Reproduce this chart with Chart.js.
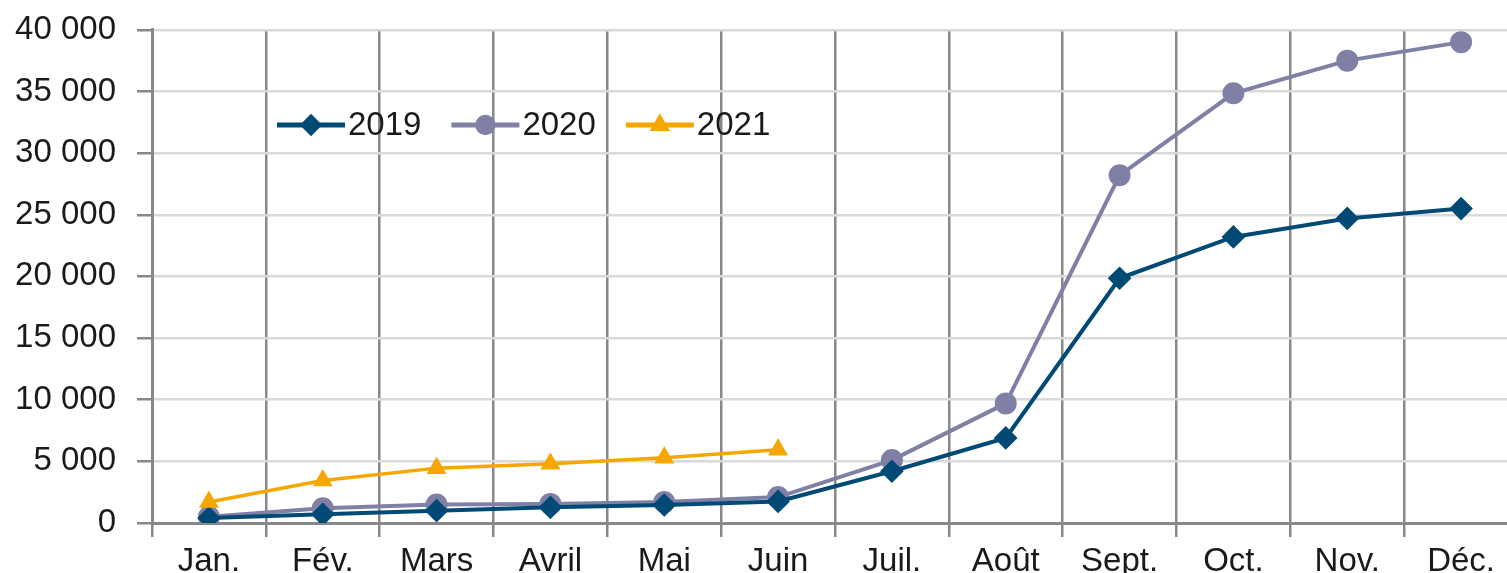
<!DOCTYPE html>
<html>
<head>
<meta charset="utf-8">
<script src="https://cdn.jsdelivr.net/npm/chart.js@4.4.1/dist/chart.umd.min.js"></script>
<style>
  body { margin: 0; overflow: hidden; background: #fff; }
  /* canvas is a bit bigger than the window: plot runs past the right edge like the source */
  #chart { display: block; margin-top: -11px; }
</style>
</head>
<body>
<canvas id="chart" width="1531" height="584"></canvas>
<script>
// categories and series
var months = ['Jan.', 'Fév.', 'Mars', 'Avril', 'Mai', 'Juin', 'Juil.', 'Août', 'Sept.', 'Oct.', 'Nov.', 'Déc.'];
var values2019 = [400, 700, 1000, 1270, 1460, 1750, 4200, 6900, 19850, 23200, 24700, 25500];
var values2020 = [500, 1200, 1500, 1550, 1700, 2100, 5100, 9700, 28200, 34850, 37500, 39000];
var values2021 = [1700, 3450, 4450, 4800, 5300, 5950];

var FONT = 'Liberation Sans';

function fmt(v) {
    return String(v).replace(/\B(?=(\d{3})+(?!\d))/g, ' ');
}

// legend drawn inside the plot, line + marker + text
var insideLegend = {
    id: 'insideLegend',
    afterDraw: function(chart) {
        var ctx = chart.ctx;
        var x = 277, y = 136;
        ctx.save();
        ctx.font = '33px "' + FONT + '"';
        ctx.textBaseline = 'middle';
        chart.data.datasets.forEach(function(ds) {
            ctx.strokeStyle = ds.borderColor;
            ctx.lineWidth = 5;
            ctx.beginPath();
            ctx.moveTo(x, y);
            ctx.lineTo(x + 68, y);
            ctx.stroke();
            Chart.helpers.drawPoint(ctx, {
                pointStyle: ds.pointStyle,
                radius: ds.pointRadius * 0.85,
                borderWidth: 1
            }, x + 34, y);
            ctx.fillStyle = ds.pointBackgroundColor;
            ctx.fill();
            ctx.fillStyle = '#1a1a1a';
            ctx.fillText(ds.label, x + 71, y + 1);
            x += 71 + ctx.measureText(ds.label).width + 30;
        });
        ctx.restore();
    }
};

document.addEventListener('DOMContentLoaded', function() {

    const data = {
        labels: months,
        datasets: [{
            label: '2019',
            data: values2019,
            borderColor: '#004a75',
            backgroundColor: '#004a75',
            pointBackgroundColor: '#004a75',
            pointBorderColor: '#004a75',
            borderWidth: 4,
            pointStyle: 'rectRot',
            pointRadius: 9,
            order: 1
        }, {
            label: '2020',
            data: values2020,
            borderColor: '#8080a6',
            backgroundColor: '#8080a6',
            pointBackgroundColor: '#8080a6',
            pointBorderColor: '#8080a6',
            borderWidth: 4,
            pointStyle: 'circle',
            pointRadius: 9,
            order: 2
        }, {
            label: '2021',
            data: values2021,
            borderColor: '#f5a700',
            backgroundColor: '#f5a700',
            pointBackgroundColor: '#f5a700',
            pointBorderColor: '#f5a700',
            borderWidth: 3.5,
            pointStyle: 'triangle',
            pointRadius: 8,
            order: 0
        }]
    };

    const config = {
        type: 'line',
        data: data,
        options: {
            responsive: false,
            animation: false,
            layout: { padding: { top: 9, right: 0, left: 0, bottom: 0 } },
            plugins: {
                legend: { display: false },
                tooltip: { enabled: false }
            },
            elements: { line: { tension: 0 } },
            scales: {
                x: {
                    offset: true,
                    grid: {
                        offset: true,
                        color: '#888888',
                        lineWidth: 2.5,
                        tickColor: '#888888',
                        tickLength: 14,
                        drawOnChartArea: true
                    },
                    border: { display: true, color: '#888888', width: 3 },
                    ticks: {
                        color: '#1a1a1a',
                        font: { family: FONT, size: 33 },
                        padding: 5,
                        maxRotation: 0,
                        autoSkip: false
                    },
                    afterFit: function(scale) { scale.height = 50; }
                },
                y: {
                    min: 0,
                    max: 40000,
                    ticks: {
                        stepSize: 5000,
                        color: '#1a1a1a',
                        font: { family: FONT, size: 33 },
                        padding: 21,
                        callback: function(v) { return fmt(v); }
                    },
                    grid: {
                        color: '#d9d9d9',
                        lineWidth: 2.5,
                        tickColor: '#888888',
                        tickLength: 15
                    },
                    border: { display: true, color: '#888888', width: 3 },
                    afterFit: function(scale) { scale.width = 152; }
                }
            }
        },
        plugins: [insideLegend]
    };

    const chart = new Chart(document.getElementById('chart'), config);
});
</script>
</body>
</html>
